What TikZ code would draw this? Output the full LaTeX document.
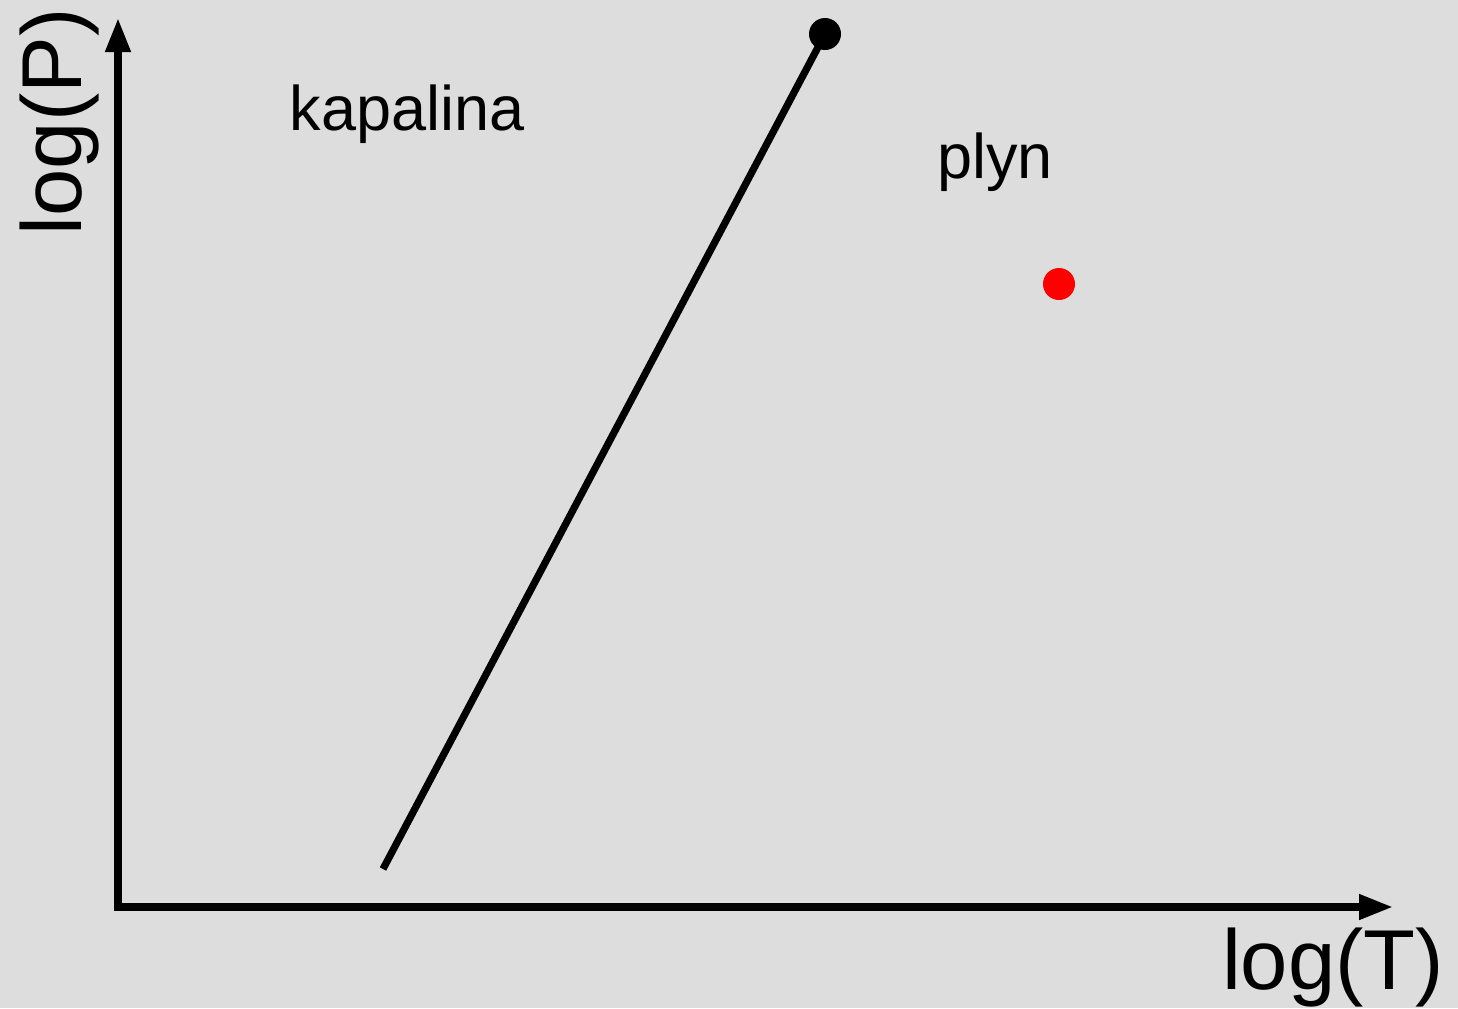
\documentclass[tikz,border=0pt]{standalone}
\usepackage{fontspec}
\setmainfont{Liberation Sans}
\usetikzlibrary{arrows.meta}
\begin{document}
\begin{tikzpicture}[x=0.5pt,y=-0.5pt,
  axis/.style={line width=3.7pt, line join=miter, {Triangle[length=17pt,width=12pt]}-{Triangle[length=17pt,width=12pt]}},
  curve/.style={line width=3.6pt},
  lbl/.style={inner sep=0pt, anchor=base, font=\fontsize{31.5}{36}\selectfont},
  axlbl/.style={inner sep=0pt, anchor=base, font=\fontsize{42.5}{48}\selectfont},
  dotnode/.style={circle, inner sep=0pt, minimum size=16pt}]
\fill[fill={rgb,255:red,221;green,221;blue,221}] (0,0) rectangle (1458,1008);
\useasboundingbox (0,0) rectangle (1458,1008);
\coordinate (origin) at (118,907);
\coordinate (ytip) at (118,18);
\coordinate (xtip) at (1393,907);
\draw[axis] (ytip) -- (origin) -- (xtip);
\coordinate (lineStart) at (383,869);
\node[dotnode, fill=black] (crit) at (825,34) {};
\node[dotnode, fill=red] (state) at (1059,284) {};
\draw[curve] (lineStart) -- (crit.center);
\node[lbl] (liquid) at (407,130) {kapalina};
\node[lbl] (gas) at (995,178) {plyn};
\node[axlbl] (xlabel) at (1333,989) {log(T)};
\node[axlbl, rotate=90] (ylabel) at (82,122) {log(P)};
\end{tikzpicture}
\end{document}
